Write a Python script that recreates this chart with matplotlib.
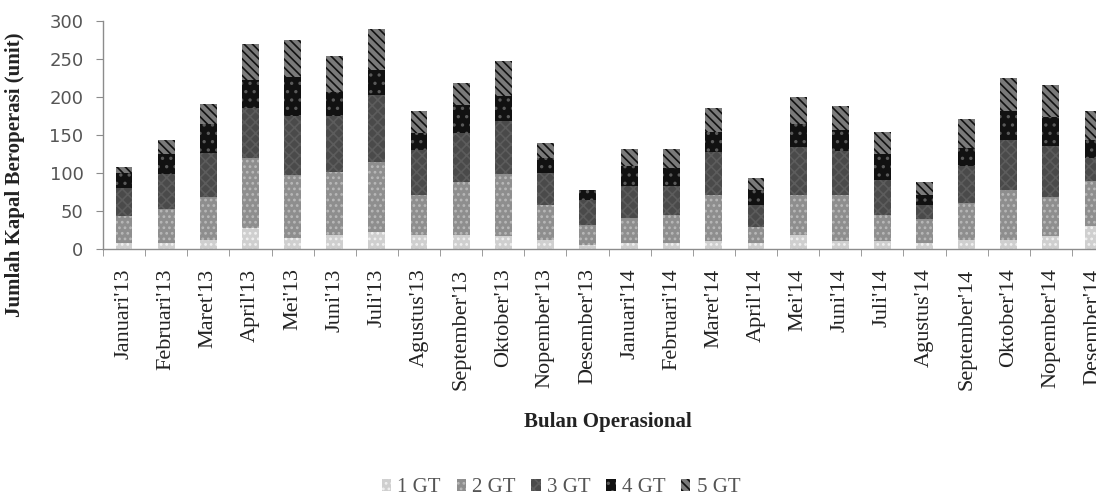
import matplotlib.pyplot as plt
import numpy as np

# Kapal beroperasi per bulan, dipecah per ukuran GT
bulan = ["Januari'13", "Februari'13", "Maret'13", "April'13", "Mei'13", "Juni'13",
         "Juli'13", "Agustus'13", "September'13", "Oktober'13", "Nopember'13", "Desember'13",
         "Januari'14", "Februari'14", "Maret'14", "April'14", "Mei'14", "Juni'14",
         "Juli'14", "Agustus'14", "September'14", "Oktober'14", "Nopember'14", "Desember'14"]

gt1 = [8, 8, 12, 28, 15, 19, 23, 19, 18, 17, 12, 5,
       8, 8, 10, 8, 19, 10, 10, 8, 12, 12, 17, 30]
gt2 = [35, 44, 57, 92, 83, 82, 92, 52, 70, 82, 46, 26,
       33, 37, 61, 21, 52, 61, 35, 31, 49, 66, 52, 59]
gt3 = [37, 47, 57, 66, 77, 74, 87, 59, 65, 69, 42, 33,
       42, 38, 56, 29, 63, 58, 46, 19, 48, 66, 66, 31]
gt4 = [20, 26, 39, 37, 51, 32, 33, 22, 36, 33, 20, 13,
       26, 24, 27, 19, 30, 28, 34, 13, 24, 37, 39, 23]
gt5 = [8, 19, 26, 47, 49, 47, 54, 29, 29, 46, 20, 1,
       22, 24, 32, 16, 36, 31, 29, 17, 38, 44, 42, 38]

seri = [gt1, gt2, gt3, gt4, gt5]
nama = ['1 GT', '2 GT', '3 GT', '4 GT', '5 GT']

# warna dasar, warna arsir, pola arsir
gaya = [('#cfcfcf', '#f0f0f0', '...'),
        ('#8e8e8e', '#b8b8b8', '...'),
        ('#4a4a4a', '#5c5c5c', 'xxx'),
        ('#111111', '#5a5a5a', '..'),
        ('#7a7a7a', '#111111', '\\\\\\\\')]

plt.rcParams['hatch.linewidth'] = 1.2

fig = plt.figure(figsize=(10.96, 4.95), dpi=100)
ax = fig.add_axes([103/1096, 1 - 249/495, (24*42.13)/1096, 228/495])

x = np.arange(len(bulan))
bawah = np.zeros(len(bulan))
for data, label, (fc, hc, h) in zip(seri, nama, gaya):
    ax.bar(x, data, 0.4, bottom=bawah, color=fc, edgecolor=hc, hatch=h,
           linewidth=0, label=label)
    bawah += np.array(data)

ax.set_xlim(-0.5, len(bulan) - 0.5)
ax.set_ylim(0, 300)
ax.set_yticks(np.arange(0, 301, 50))

for s in ['top', 'right']:
    ax.spines[s].set_visible(False)
for s in ['left', 'bottom']:
    ax.spines[s].set_color('#8c8c8c')
    ax.spines[s].set_linewidth(1)

ax.tick_params(axis='y', direction='out', length=5, color='#8c8c8c', pad=9,
               labelsize=13, labelcolor='#555555')
ax.set_xticks(x)
ax.set_xticklabels(bulan, rotation=90, fontfamily='Liberation Serif', fontsize=16,
                   color='#222222')
ax.tick_params(axis='x', length=0, pad=14)
ax.set_xticks(np.arange(-0.5, len(bulan), 1), minor=True)
ax.tick_params(axis='x', which='minor', direction='out', length=5, color='#8c8c8c')

fig.text(15/1096, 1 - 175/495, 'Jumlah Kapal Beroperasi (unit)', rotation=90,
         ha='center', va='center', fontfamily='Liberation Serif', fontweight='bold',
         fontsize=15, color='#222222')
fig.text(608/1096, 1 - 422/495, 'Bulan Operasional', ha='center', va='center',
         fontfamily='Liberation Serif', fontweight='bold', fontsize=15, color='#222222')

fig.legend(loc='center', bbox_to_anchor=(561/1096, 1 - 488/495), ncol=5, frameon=False,
           prop={'family': 'Liberation Serif', 'size': 15}, handlelength=0.45,
           handleheight=0.5, handletextpad=0.3, columnspacing=0.75, labelcolor='#555555')

fig.savefig('out.png', dpi=100)
